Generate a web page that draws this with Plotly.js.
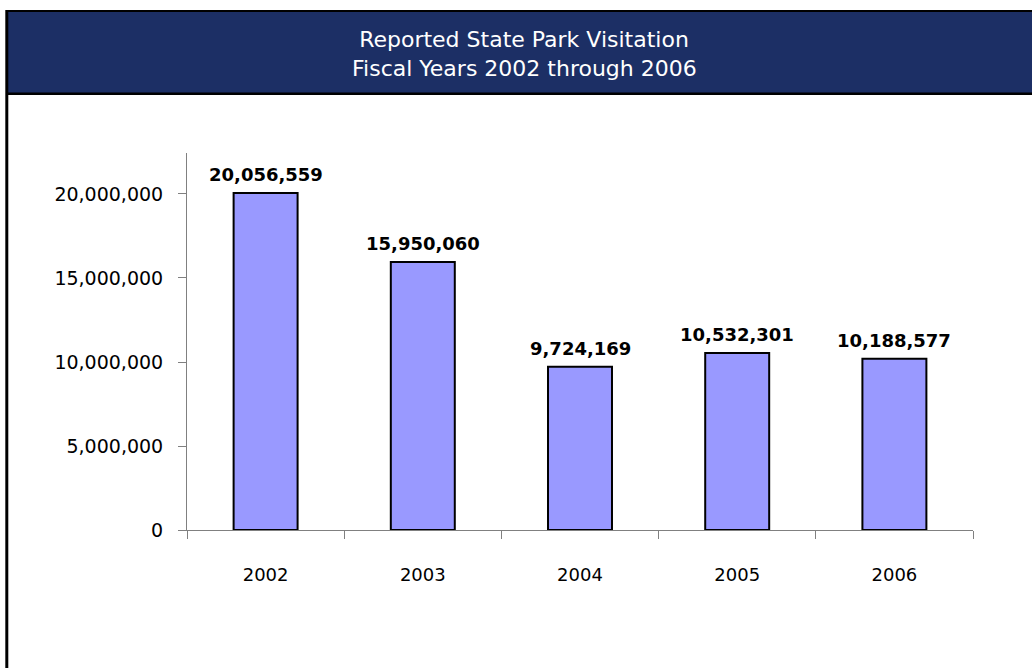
<!DOCTYPE html>
<html>
<head>
<meta charset="utf-8">
<script src="https://cdn.plot.ly/plotly-3.0.1.min.js"></script>
<style>
  html, body { margin: 0; padding: 0; background: #ffffff; }
  #chart { width: 1032px; height: 668px; }
</style>
</head>
<body>
<div id="chart"></div>
<script>
// ---- data ----
const years = ['2002', '2003', '2004', '2005', '2006'];
const visitors = [20056559, 15950060, 9724169, 10532301, 10188577];
const titleLines = ['Reported State Park Visitation', 'Fiscal Years 2002 through 2006'];

// ---- geometry helpers (pixel -> paper) ----
const W = 1032, H = 668;
const mL = 186.7, mR = 59.3, mT = 153, mB = 138;
const pw = W - mL - mR, ph = H - mT - mB;
const px = v => (v - mL) / pw;
const py = v => (H - mB - v) / ph;

const navy = 'rgb(28,47,101)';
const font = 'DejaVu Sans, Verdana, sans-serif';

const trace = {
  type: 'bar',
  x: years,
  y: visitors,
  marker: { color: '#9999ff', line: { color: '#000000', width: 2 } },
  hoverinfo: 'skip'
};

const annotations = years.map((yr, i) => ({
  x: i,
  y: visitors[i],
  xref: 'x',
  yref: 'y',
  text: visitors[i].toLocaleString('en-US'),
  showarrow: false,
  yanchor: 'bottom',
  yshift: 6,
  font: { family: font, size: 18, color: '#000000', weight: 'bold' }
}));

// second title line
annotations.push({
  x: px(524),
  y: py(68),
  xref: 'paper',
  yref: 'paper',
  text: titleLines[1],
  showarrow: false,
  xanchor: 'center',
  yanchor: 'middle',
  font: { family: font, size: 22, color: '#ffffff' }
});

const shapes = [
  { type: 'rect', xref: 'paper', yref: 'paper', layer: 'below',
    x0: px(5), x1: px(1045), y0: py(95), y1: py(10),
    fillcolor: '#000000', line: { width: 0 } },
  { type: 'rect', xref: 'paper', yref: 'paper', layer: 'below',
    x0: px(8), x1: px(1045), y0: py(92.5), y1: py(12),
    fillcolor: navy, line: { width: 0 } },
  { type: 'rect', xref: 'paper', yref: 'paper', layer: 'below',
    x0: px(5), x1: px(8), y0: py(700), y1: py(95),
    fillcolor: '#000000', line: { width: 0 } }
];

const layout = {
  width: W,
  height: H,
  margin: { l: mL, r: mR, t: mT, b: mB, pad: 0 },
  paper_bgcolor: '#ffffff',
  plot_bgcolor: '#ffffff',
  showlegend: false,
  bargap: 0.593,
  title: {
    text: titleLines[0],
    font: { family: font, size: 22, color: '#ffffff' },
    x: 524 / W,
    xanchor: 'center',
    xref: 'container',
    yref: 'container',
    y: 1 - 39 / H,
    yanchor: 'middle'
  },
  xaxis: {
    type: 'category',
    range: [-0.5, 4.5],
    autorange: false,
    showline: true,
    linecolor: '#808080',
    linewidth: 1,
    showgrid: false,
    zeroline: false,
    ticks: 'outside',
    tickson: 'boundaries',
    ticklen: 8,
    tickcolor: '#808080',
    tickwidth: 1,
    tickangle: 0,
    ticklabelstandoff: 28,
    tickfont: { family: font, size: 18, color: '#000000' }
  },
  yaxis: {
    range: [0, 22440000],
    autorange: false,
    showline: true,
    linecolor: '#808080',
    linewidth: 1,
    showgrid: false,
    zeroline: false,
    tickmode: 'linear',
    tick0: 0,
    dtick: 5000000,
    tickformat: ',d',
    ticks: 'outside',
    ticklen: 8,
    tickcolor: '#808080',
    tickwidth: 1,
    ticklabelstandoff: 11,
    tickfont: { family: font, size: 19, color: '#000000' }
  },
  shapes: shapes,
  annotations: annotations
};

Plotly.newPlot('chart', [trace], layout, { staticPlot: true, displayModeBar: false });
</script>
</body>
</html>
